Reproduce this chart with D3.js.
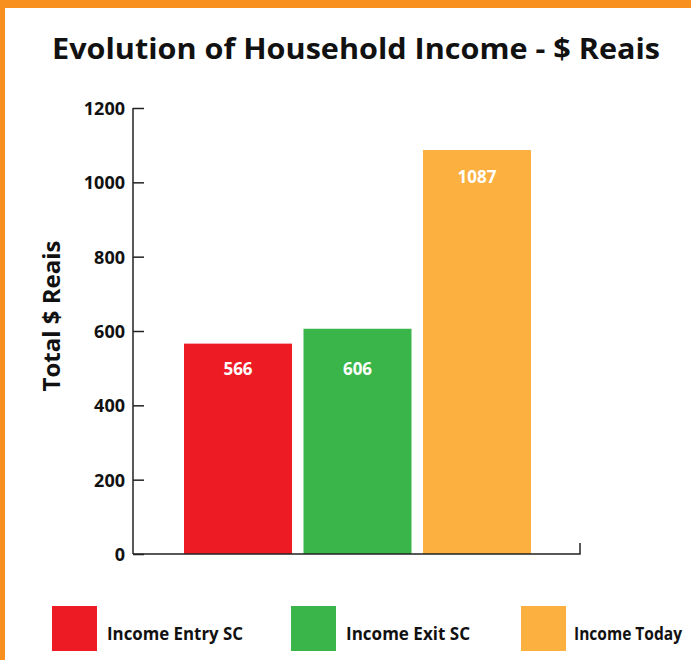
<!DOCTYPE html>
<html><head><meta charset="utf-8">
<script src="https://cdn.jsdelivr.net/npm/d3@7"></script>
<style>body{margin:0;background:#fff}svg{display:block}</style>
</head><body>
<script>
const categories = ["Income Entry SC", "Income Exit SC", "Income Today"];
const values = [566, 606, 1087];
const colors = ["#ED1C24", "#39B54A", "#FBB040"];
const yTicks = [0, 200, 400, 600, 800, 1000, 1200];

const W = 691, H = 660;
const svg = d3.select("body").append("svg").attr("width", W).attr("height", H);
const font = "'Open Sans', sans-serif";

// border
svg.append("rect").attr("x",0).attr("y",0).attr("width",W).attr("height",8).attr("fill","#F7901E");
svg.append("rect").attr("x",0).attr("y",0).attr("width",5).attr("height",H).attr("fill","#F7901E");

// title
svg.append("text").attr("x",356).attr("y",59).attr("text-anchor","middle")
  .attr("font-family",font).attr("font-weight",700).attr("font-size",29)
  .attr("textLength",608).attr("lengthAdjust","spacingAndGlyphs").attr("fill","#111")
  .text("Evolution of Household Income - $ Reais");

const y = d3.scaleLinear().domain([0,1200]).range([554,108]);
const x = d3.scaleBand().domain(categories).range([184,531]).paddingInner(0.096).paddingOuter(0);

// bars
svg.selectAll("rect.bar").data(values).enter().append("rect")
  .attr("x",(d,i)=>x(categories[i])).attr("width",x.bandwidth())
  .attr("y",d=>y(d)).attr("height",d=>y(0)-y(d)).attr("fill",(d,i)=>colors[i]);

// value labels (style: offset below bar top, px)
const labelOffset = [31, 46, 33];
svg.selectAll("text.val").data(values).enter().append("text")
  .attr("x",(d,i)=>x(categories[i])+x.bandwidth()/2).attr("y",(d,i)=>y(d)+labelOffset[i])
  .attr("text-anchor","middle").attr("fill","#fff")
  .attr("font-family",font).attr("font-weight",700).attr("font-size",17)
  .text(d=>d);

// y axis
const yAxis = d3.axisRight(y).tickValues(yTicks).tickSize(11).tickFormat("");
const gy = svg.append("g").attr("transform","translate(133,0)").call(yAxis);
gy.select(".domain").attr("stroke","#222").attr("stroke-width",1.5).attr("d","M0,108V554");
gy.selectAll(".tick line").attr("stroke","#222").attr("stroke-width",1.5);
svg.selectAll("text.ytl").data(yTicks).enter().append("text")
  .attr("x",125).attr("y",d=>y(d)+7).attr("text-anchor","end")
  .attr("font-family",font).attr("font-weight",700).attr("font-size",18).attr("fill","#111")
  .text(d=>d);

// x axis
svg.append("path").attr("d",`M133,${y(0)}H580V543`).attr("fill","none").attr("stroke","#222").attr("stroke-width",1.5);

// y label
svg.append("text").attr("transform","translate(60,316) rotate(-90)").attr("text-anchor","middle")
  .attr("font-family",font).attr("font-weight",700).attr("font-size",24).attr("fill","#111")
  .text("Total $ Reais");

// legend
const legX = [52, 291, 521];
const legTextLen = [136, 124, 108];
const lg = svg.selectAll("g.leg").data(categories).enter().append("g")
  .attr("transform",(d,i)=>`translate(${legX[i]},606)`);
lg.append("rect").attr("width",45).attr("height",45).attr("fill",(d,i)=>colors[i]);
lg.append("text").attr("x",(d,i)=>i===2 ? 53 : 55).attr("y",34)
  .attr("font-family",font).attr("font-weight",700).attr("font-size",17).attr("fill","#111")
  .attr("textLength",(d,i)=>legTextLen[i]).attr("lengthAdjust","spacingAndGlyphs")
  .text(d=>d);
</script>
</body></html>
